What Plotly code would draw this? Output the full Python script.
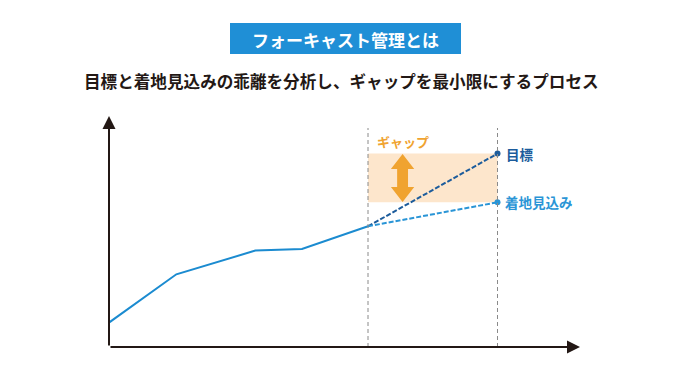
import plotly.graph_objects as go

# ---- data ----
months = [0, 2.6, 5.65, 7.45, 10]
actual = [2.44, 7.27, 9.64, 9.8, 12.07]
end_month = 15
target_value = 19.34
forecast_value = 14.47

title_text = "フォーキャスト管理とは"
subtitle_text = "目標と着地見込みの乖離を分析し、ギャップを最小限にするプロセス"
gap_label = "ギャップ"
target_label = "目標"
forecast_label = "着地見込み"

FONT = "Noto Sans CJK JP"
C_LINE = "#1b8bd0"
C_TARGET = "#1c5c9c"
C_FORE = "#2a95d6"
C_GAP = "#f0a330"
C_GAPBG = "#fde6cc"
C_AXIS = "#231815"

W, H = 690, 380
OFF = 8  # page body offset
L, R, T, B = 101, 118, 108, 41
PW, PH = W - L - R, H - T - B
xmax = PW / 25.9
ymax = PH / 10.0


def px(xp):
    return (xp - OFF - L) / PW


def py(yp):
    return (H - B - (yp - OFF)) / PH


fig = go.Figure()

last_x, last_y = months[-1], actual[-1]

# gap band
fig.add_shape(type="rect", xref="x", yref="y", x0=last_x, x1=end_month,
              y0=forecast_value, y1=target_value, fillcolor=C_GAPBG,
              line_width=0, layer="below")

# vertical dashed guides
for xv in (last_x, end_month):
    fig.add_shape(type="line", xref="x", yref="y", x0=xv, x1=xv, y0=0,
                  y1=ymax - 1.2, line=dict(color="#8a8a8a", width=1, dash="4px,3px"))

# double arrow (built from gap values)
cx = last_x + (end_month - last_x) * 0.267
hw, sw, hh = 0.45, 0.21, 1.5
top, bot = target_value - 0.05, forecast_value + 0.03
path = (f"M {cx},{top} L {cx+hw},{top-hh} L {cx+sw},{top-hh} L {cx+sw},{bot+hh} "
        f"L {cx+hw},{bot+hh} L {cx},{bot} L {cx-hw},{bot+hh} L {cx-sw},{bot+hh} "
        f"L {cx-sw},{top-hh} L {cx-hw},{top-hh} Z")
fig.add_shape(type="path", xref="x", yref="y", path=path, fillcolor=C_GAP, line_width=0)

# actual line
fig.add_trace(go.Scatter(x=months, y=actual, mode="lines",
                         line=dict(color=C_LINE, width=2), hoverinfo="skip"))
# target projection
fig.add_trace(go.Scatter(x=[last_x, end_month], y=[last_y, target_value], mode="lines",
                         line=dict(color=C_TARGET, width=2, dash="5px,2px"), hoverinfo="skip"))
fig.add_trace(go.Scatter(x=[end_month], y=[target_value], mode="markers",
                         marker=dict(color=C_TARGET, size=6), hoverinfo="skip"))
# forecast projection
fig.add_trace(go.Scatter(x=[last_x, end_month], y=[last_y, forecast_value], mode="lines",
                         line=dict(color=C_FORE, width=2, dash="5px,2px"), hoverinfo="skip"))
fig.add_trace(go.Scatter(x=[end_month], y=[forecast_value], mode="markers",
                         marker=dict(color=C_FORE, size=6), hoverinfo="skip"))

ann = []
# axes with arrowheads
ann.append(dict(x=xmax, y=0, ax=0, ay=0, xref="x", yref="y", axref="x", ayref="y",
                text="", showarrow=True, arrowhead=2, arrowsize=1.3, arrowwidth=2,
                arrowcolor=C_AXIS))
ann.append(dict(x=0, y=ymax, ax=0, ay=0, xref="x", yref="y", axref="x", ayref="y",
                text="", showarrow=True, arrowhead=2, arrowsize=1.3, arrowwidth=2,
                arrowcolor=C_AXIS))
# labels
ann.append(dict(x=end_month, y=target_value, xref="x", yref="y", text=f"<b>{target_label}</b>",
                showarrow=False, xanchor="left", xshift=6, yanchor="middle",
                font=dict(family=FONT, size=13.5, color=C_TARGET)))
ann.append(dict(x=end_month, y=forecast_value, xref="x", yref="y", text=f"<b>{forecast_label}</b>",
                showarrow=False, xanchor="left", xshift=5, yanchor="middle",
                font=dict(family=FONT, size=13.5, color=C_FORE)))
ann.append(dict(x=cx, y=target_value, xref="x", yref="y", text=f"<b>{gap_label}</b>",
                showarrow=False, xanchor="center", yanchor="bottom", yshift=1,
                font=dict(family=FONT, size=13, color=C_GAP)))
# title box
ann.append(dict(x=px(345), y=py(39), xref="paper", yref="paper",
                text=f"<b>{title_text}</b>", showarrow=False, xanchor="center", yanchor="middle",
                font=dict(family=FONT, size=17, color="white")))
ann.append(dict(x=px(341.5), y=py(81), xref="paper", yref="paper",
                text=f"<b>{subtitle_text}</b>", showarrow=False, xanchor="center", yanchor="middle",
                font=dict(family=FONT, size=16.6, color=C_AXIS)))

fig.add_shape(type="rect", xref="paper", yref="paper",
              x0=px(230), x1=px(461), y0=py(54), y1=py(23),
              fillcolor="#1f8fd6", line_width=0, layer="below")

fig.update_layout(
    width=W, height=H, margin=dict(l=L, r=R, t=T, b=B),
    plot_bgcolor="white", paper_bgcolor="white", showlegend=False,
    xaxis=dict(range=[0, xmax], visible=False, fixedrange=True),
    yaxis=dict(range=[0, ymax], visible=False, fixedrange=True),
    annotations=ann,
)

fig.write_html("out.html")
